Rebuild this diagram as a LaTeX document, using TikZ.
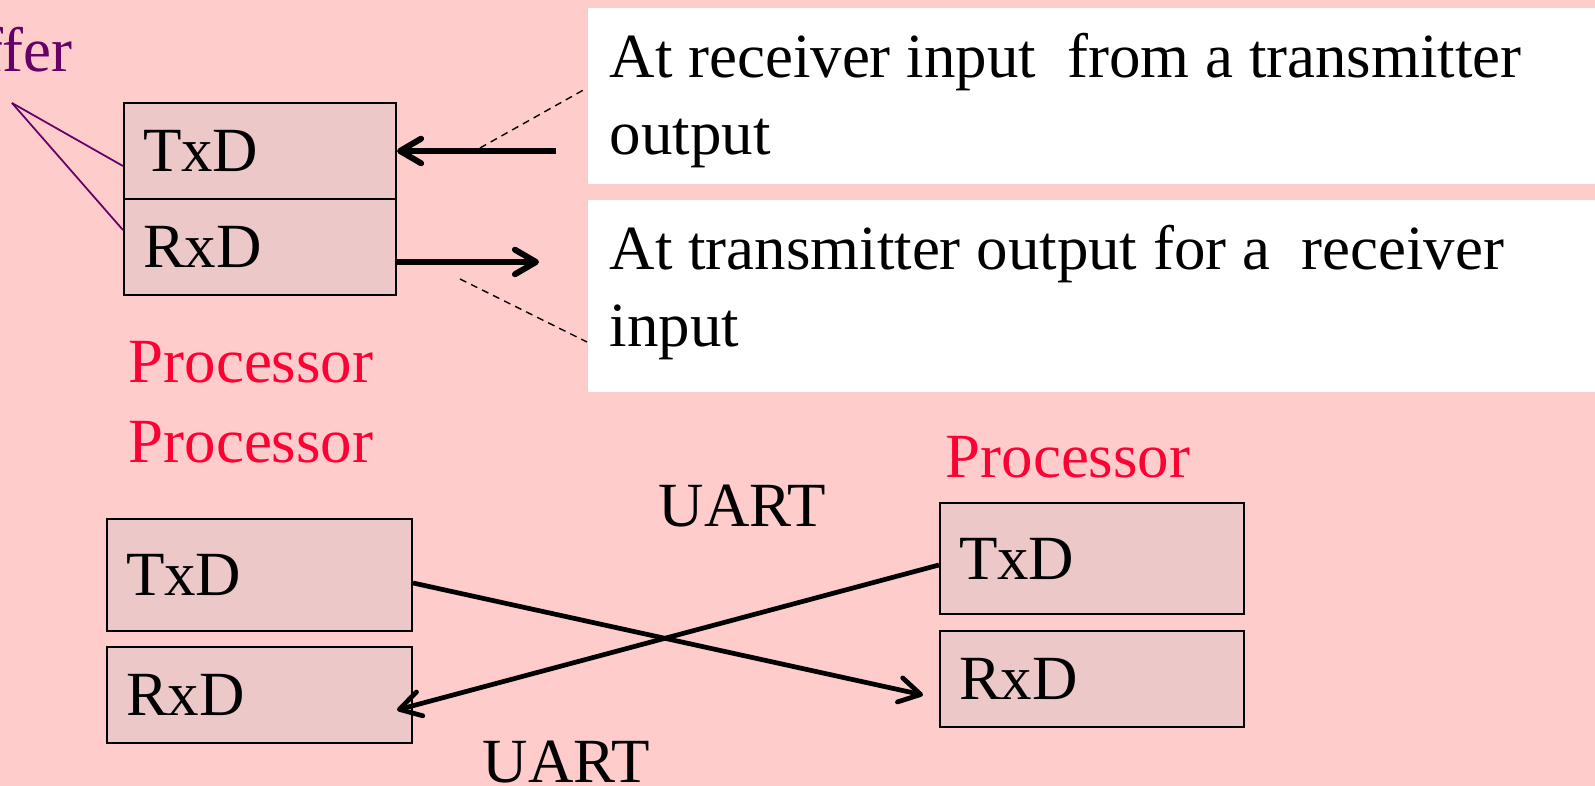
\documentclass[tikz,border=0pt]{standalone}
\usepackage{fontspec}
\setmainfont{Liberation Serif}
\usetikzlibrary{arrows.meta}

\definecolor{slidepink}{HTML}{FFCCCC}
\definecolor{regfill}{HTML}{ECC8C8}
\definecolor{procred}{HTML}{FF0033}
\definecolor{bufpurple}{HTML}{660066}

\begin{document}
\begin{tikzpicture}[>={Straight Barb[length=6pt,width=7pt,round]},
    every node/.style={font=\fontsize{17.9}{21.5}\selectfont, inner sep=0pt},
    regbox/.style={draw, line width=0.6pt, fill=regfill, align=left, inner xsep=0.19cm},
    notebox/.style={fill=white, minimum width=10.08cm, anchor=north west},
    bodytext/.style={anchor=base west},
    proclabel/.style={anchor=base west, text=procred},
    dashlead/.style={dashed, dash pattern=on 2pt off 1.5pt, line width=0.4pt},
    wire/.style={->, line width=1.35pt}]
    \useasboundingbox (0,0) rectangle (15.95,-7.86);
    \fill[slidepink] (0,0) rectangle (15.95,-7.86);

    % notes on the right
    \node[notebox, minimum height=1.76cm] (note_rx) at (5.87,-0.07) {};
    \node[notebox, minimum height=1.92cm] (note_tx) at (5.87,-1.99) {};
    \node[bodytext] (rxline_1) at (6.09,-0.78) {At receiver input\ \ from a transmitter};
    \node[bodytext] (rxline_2) at (6.09,-1.55) {output};
    \node[bodytext] (txline_1) at (6.09,-2.70) {At transmitter output for a\ \ receiver};
    \node[bodytext] (txline_2) at (6.09,-3.47) {input};

    % buffer registers
    \node[regbox, text width=2.34cm, minimum height=0.96cm] (tx_a) at (2.60,-1.51) {TxD};
    \node[regbox, text width=2.34cm, minimum height=0.96cm] (rx_a) at (2.60,-2.47) {RxD};
    \node[anchor=base east, text=bufpurple] (buf) at (0.73,-0.72) {ffer};
    \coordinate (buf_tip) at (0.12,-1.03);
    \draw[bufpurple, line width=0.5pt] (buf_tip) -- ([yshift=-0.15cm]tx_a.west);
    \draw[bufpurple, line width=0.5pt] (buf_tip) -- ([yshift=0.17cm]rx_a.west);

    \coordinate (in_a) at (5.56,-1.51);
    \coordinate (out_a) at (5.39,-2.62);
    \draw[->, line width=1.7pt] (in_a) -- (tx_a.east);
    \draw[->, line width=1.7pt] ([yshift=-0.15cm]rx_a.east) -- (out_a);

    \coordinate (dash_1) at (4.80,-1.48);
    \coordinate (dashend_1) at (5.87,-0.88);
    \coordinate (dash_2) at (4.60,-2.79);
    \coordinate (dashend_2) at (5.87,-3.42);
    \draw[dashlead] (dash_1) -- (dashend_1);
    \draw[dashlead] (dash_2) -- (dashend_2);

    \node[proclabel] (proc_1) at (1.28,-3.83) {Processor};
    \node[proclabel] (proc_2) at (1.28,-4.63) {Processor};
    \node[proclabel] (proc_3) at (9.45,-4.78) {Processor};

    % two processors linked
    \node[regbox, text width=2.67cm, minimum height=1.12cm] (tx_l) at (2.595,-5.75) {TxD};
    \node[regbox, text width=2.67cm, minimum height=0.96cm] (rx_l) at (2.595,-6.95) {RxD};
    \node[regbox, text width=2.66cm, minimum height=1.11cm] (tx_r) at (10.92,-5.585) {TxD};
    \node[regbox, text width=2.66cm, minimum height=0.96cm] (rx_r) at (10.92,-6.79) {RxD};

    \coordinate (tip_r) at (9.23,-6.95);
    \coordinate (tip_l) at (3.97,-7.10);
    \draw[wire] ([yshift=-0.08cm]tx_l.east) -- (tip_r);
    \draw[wire] ([yshift=-0.065cm]tx_r.west) -- (tip_l);

    \node[bodytext] (uart_1) at (6.58,-5.27) {UART};
    \node[bodytext] (uart_2) at (4.82,-7.83) {UART};
\end{tikzpicture}
\end{document}
